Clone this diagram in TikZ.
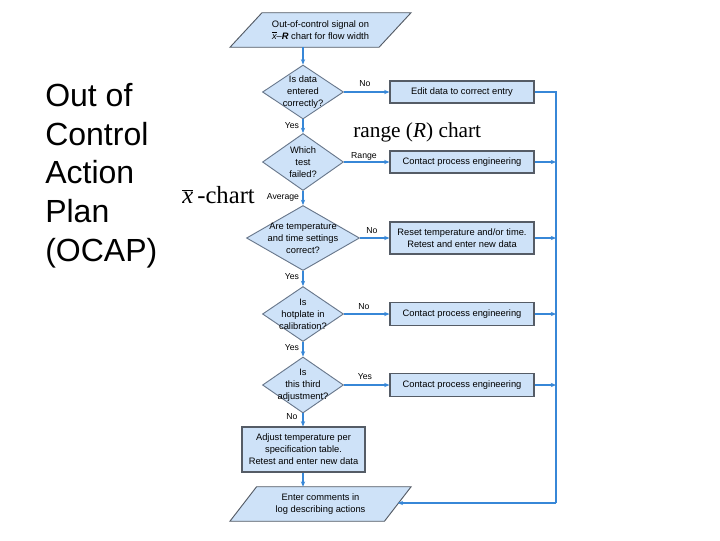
\documentclass[tikz,border=0pt]{standalone}
\usepackage{fontspec}
\setmainfont{Liberation Sans}
\newfontfamily\serif{Liberation Serif}
\usetikzlibrary{shapes.geometric,arrows.meta,backgrounds}
\definecolor{fillblue}{RGB}{206,226,248}
\definecolor{boxedge}{RGB}{85,92,102}
\definecolor{decedge}{RGB}{105,120,140}
\definecolor{flow}{RGB}{55,135,215}
\tikzset{
  box/.style={draw=boxedge, line width=0.8pt, fill=fillblue, rectangle, inner sep=0pt, align=center, font=\fontsize{7}{9}\selectfont},
  dec/.style={draw=decedge, line width=0.7pt, fill=fillblue, diamond, inner sep=0pt, aspect=1.5},
  txt/.style={inner sep=0pt, align=center, font=\fontsize{7}{9}\selectfont},
  lbl/.style={inner sep=0pt, font=\fontsize{6.5}{8}\selectfont},
  para/.style={draw=boxedge, line width=0.7pt, fill=fillblue},
  arr/.style={draw=flow, line width=0.9pt, -{Stealth[length=4pt,width=3.2pt]}},
  ln/.style={draw=flow, line width=0.9pt},
}
\begin{document}
\begin{tikzpicture}[x=0.75pt,y=-0.75pt]
\useasboundingbox (0,0) rectangle (720,540);
% left title
\node[anchor=north west, inner sep=0pt, align=left, font=\fontsize{24}{29}\selectfont] (title) at (45,83) {Out of\\Control\\Action\\Plan\\(OCAP)};
% start parallelogram
\node[txt, minimum width=148.5*0.75pt, minimum height=34*0.75pt] (start) at (320.5,30) {Out-of-control signal on\\$\overline{\mbox{\itshape x}}$--\textbf{\textit{R}} chart for flow width};
\begin{scope}[on background layer]
\draw[para] ([xshift=12pt]start.north west) -- ([xshift=12pt]start.north east) -- ([xshift=-12pt]start.south east) -- ([xshift=-12pt]start.south west) -- cycle;
\end{scope}
% diamonds
\node[dec, minimum width=81*0.75pt, minimum height=54*0.75pt] (d1) at (303,92) {};
\node[txt] at (d1) {Is data\\entered\\correctly?};
\node[dec, minimum width=81*0.75pt, minimum height=57*0.75pt] (d2) at (303,162) {};
\node[txt] at (d2) {Which\\test\\failed?};
\node[dec, minimum width=113*0.75pt, minimum height=65*0.75pt] (d3) at (303,238) {};
\node[txt] at (d3) {Are temperature\\and time settings\\correct?};
\node[dec, minimum width=81*0.75pt, minimum height=55*0.75pt] (d4) at (303,314) {};
\node[txt] at (d4) {Is\\hotplate in\\calibration?};
\node[dec, minimum width=81*0.75pt, minimum height=56*0.75pt] (d5) at (303,385) {};
\node[txt] at (d5) {Is\\this third\\adjustment?};
% right boxes
\node[box, minimum width=144*0.75pt, minimum height=22*0.75pt] (b1) at (462,92) {Edit data to correct entry};
\node[box, minimum width=144*0.75pt, minimum height=22*0.75pt] (b2) at (462,162) {Contact process engineering};
\node[box, minimum width=144*0.75pt, minimum height=32*0.75pt] (b3) at (462,238) {Reset temperature and/or time.\\Retest and enter new data};
\node[box, minimum width=144*0.75pt, minimum height=23*0.75pt] (b4) at (462,314) {Contact process engineering};
\node[box, minimum width=144*0.75pt, minimum height=23*0.75pt] (b5) at (462,385) {Contact process engineering};
% adjust box
\node[box, minimum width=123*0.75pt, minimum height=45*0.75pt] (adj) at (303.5,449.5) {Adjust temperature per\\specification table.\\Retest and enter new data};
% end parallelogram
\node[txt, minimum width=154*0.75pt, minimum height=34*0.75pt] (endp) at (320.5,504) {Enter comments in\\log describing actions};
\begin{scope}[on background layer]
\draw[para] ([xshift=10pt]endp.north west) -- ([xshift=10pt]endp.north east) -- ([xshift=-10pt]endp.south east) -- ([xshift=-10pt]endp.south west) -- cycle;
\end{scope}
% vertical flow
\draw[arr] (start.south -| d1.north) -- (d1.north);
\draw[arr] (d1.south) -- (d2.north);
\draw[arr] (d2.south) -- (d3.north);
\draw[arr] (d3.south) -- (d4.north);
\draw[arr] (d4.south) -- (d5.north);
\draw[arr] (d5.south) -- (d5.south |- adj.north);
\draw[arr] (adj.south -| d5.south) -- (d5.south |- endp.north);
% horizontal flow
\draw[arr] (d1.east) -- (b1.west);
\draw[arr] (d2.east) -- (b2.west);
\draw[arr] (d3.east) -- (b3.west);
\draw[arr] (d4.east) -- (b4.west);
\draw[arr] (d5.east) -- (b5.west);
% bus
\coordinate (bus) at (556,92);
\coordinate (busend) at (556,503);
\draw[ln] (b1.east) -- (bus) -- (busend);
\draw[arr] (busend) -- (busend -| endp.east);
\draw[arr] (b2.east) -- (b2.east -| bus);
\draw[arr] (b3.east) -- (b3.east -| bus);
\draw[arr] (b4.east) -- (b4.east -| bus);
\draw[arr] (b5.east) -- (b5.east -| bus);
% labels
\node[lbl] (l1) at (365,84) {No};
\node[lbl] (l2) at (292,126) {Yes};
\node[lbl] (l3) at (364,156) {Range};
\node[lbl] (l4) at (283,197) {Average};
\node[lbl] (l5) at (372,231) {No};
\node[lbl] (l6) at (292,277) {Yes};
\node[lbl] (l7) at (364,307) {No};
\node[lbl] (l8) at (292,348) {Yes};
\node[lbl] (l9) at (365,377) {Yes};
\node[lbl] (l10) at (292,417) {No};
% overlay annotations
\node[anchor=base west, inner sep=0pt, font=\serif\fontsize{16}{18}\selectfont] (rc) at (353,137) {range (\textit{R}) chart};
\node[anchor=base west, inner sep=0pt, font=\serif\fontsize{18.5}{20}\selectfont] (xc) at (182,203) {$\overline{\mbox{\serif\itshape x}}$\,-chart};
\end{tikzpicture}
\end{document}
